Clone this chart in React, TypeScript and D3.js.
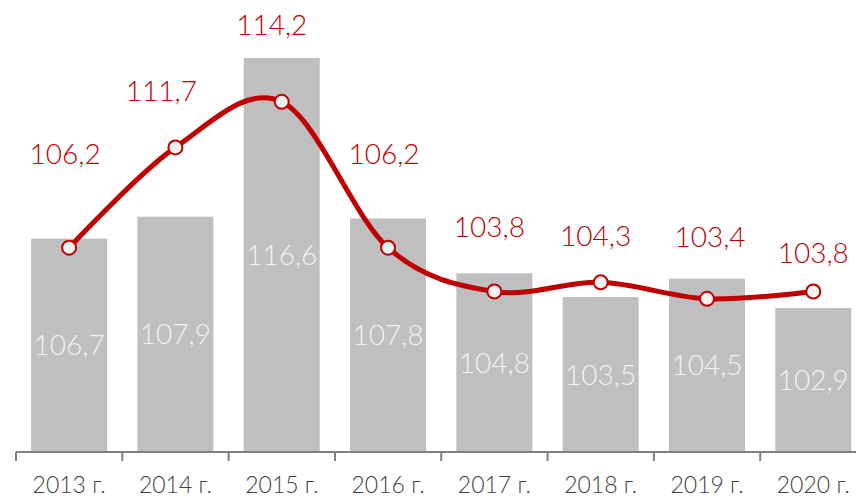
import { useEffect, useRef } from "react";
import * as d3 from "d3";

// Chart data
const YEARS = ["2013 г.", "2014 г.", "2015 г.", "2016 г.", "2017 г.", "2018 г.", "2019 г.", "2020 г."];
const BAR_VALUES = [106.7, 107.9, 116.6, 107.8, 104.8, 103.5, 104.5, 102.9];
const LINE_VALUES = [106.2, 111.7, 114.2, 106.2, 103.8, 104.3, 103.4, 103.8];

const W = 856;
const H = 499;
const BASE_Y = 452;
const RED = "#c00000";
const BAR_FILL = "#bfbfbf";
const FONT = "Lato, 'Open Sans', sans-serif";

// hand-placed offsets of the red labels (px from their point)
const LABEL_DX = [-4, -14, -10, -4, -5, -5, 3, 0];
const LABEL_DY = [-84, -46, -67, -84, -54, -36, -52, -28];

const fmt = (v: number) => v.toFixed(1).replace(".", ",");

export default function App() {
  const svgRef = useRef<SVGSVGElement>(null);

  useEffect(() => {
    if (!svgRef.current) return;
    const svg = d3.select(svgRef.current);
    svg.selectAll("*").remove();

    const x = d3
      .scaleBand<string>()
      .domain(YEARS)
      .range([16, 16 + 8 * 106.3])
      .paddingInner(0.285)
      .paddingOuter(0.142);

    const y = d3.scaleLinear().domain([95, 120]).range([BASE_Y, -4]);

    // Bars
    svg
      .append("g")
      .selectAll("rect")
      .data(BAR_VALUES)
      .join("rect")
      .attr("x", (_, i) => x(YEARS[i])!)
      .attr("y", (d) => y(d))
      .attr("width", x.bandwidth())
      .attr("height", (d) => BASE_Y - y(d))
      .attr("fill", BAR_FILL);

    // Bar labels, centred in the bar
    svg
      .append("g")
      .selectAll("text")
      .data(BAR_VALUES)
      .join("text")
      .attr("x", (_, i) => x(YEARS[i])! + x.bandwidth() / 2)
      .attr("y", (d) => (y(d) + BASE_Y) / 2)
      .attr("dy", "0.36em")
      .attr("text-anchor", "middle")
      .attr("font-family", FONT)
      .attr("font-weight", 300)
      .attr("font-size", 28)
      .attr("fill", "#f2f2f2")
      .text((d) => fmt(d));

    // X axis
    const axis = svg
      .append("g")
      .attr("transform", `translate(0,${BASE_Y})`)
      .call(d3.axisBottom(x).tickSize(0).tickPadding(25));
    axis.select(".domain").remove();
    axis
      .selectAll("text")
      .attr("font-family", FONT)
      .attr("font-weight", 300)
      .attr("font-size", 23)
      .attr("fill", "#404040");

    const [r0, r1] = x.range();
    const step = x.step();
    axis
      .append("line")
      .attr("x1", r0)
      .attr("x2", r1)
      .attr("stroke", "#7f7f7f")
      .attr("stroke-width", 2);
    axis
      .selectAll("line.tick-mark")
      .data(d3.range(YEARS.length + 1))
      .join("line")
      .attr("class", "tick-mark")
      .attr("x1", (i) => r0 + i * step)
      .attr("x2", (i) => r0 + i * step)
      .attr("y1", 0)
      .attr("y2", 9)
      .attr("stroke", "#7f7f7f")
      .attr("stroke-width", 2);

    // Smoothed line
    const cx = (i: number) => x(YEARS[i])! + x.bandwidth() / 2;
    const line = d3
      .line<number>()
      .x((_, i) => cx(i))
      .y((d) => y(d))
      .curve(d3.curveCardinal.tension(0));

    svg
      .append("path")
      .datum(LINE_VALUES)
      .attr("d", line)
      .attr("fill", "none")
      .attr("stroke", RED)
      .attr("stroke-width", 5);

    svg
      .append("g")
      .selectAll("circle")
      .data(LINE_VALUES)
      .join("circle")
      .attr("cx", (_, i) => cx(i))
      .attr("cy", (d) => y(d))
      .attr("r", 7)
      .attr("fill", "#f2f2f2")
      .attr("stroke", RED)
      .attr("stroke-width", 2);

    svg
      .append("g")
      .selectAll("text")
      .data(LINE_VALUES)
      .join("text")
      .attr("x", (_, i) => cx(i) + LABEL_DX[i])
      .attr("y", (d, i) => y(d) + LABEL_DY[i])
      .attr("text-anchor", "middle")
      .attr("font-family", FONT)
      .attr("font-weight", 300)
      .attr("font-size", 28)
      .attr("fill", RED)
      .text((d) => fmt(d));
  }, []);

  return (
    <div style={{ position: "absolute", left: 0, top: 0, width: W, height: H, background: "#fff" }}>
      <svg ref={svgRef} width={W} height={H} style={{ display: "block" }} />
    </div>
  );
}
